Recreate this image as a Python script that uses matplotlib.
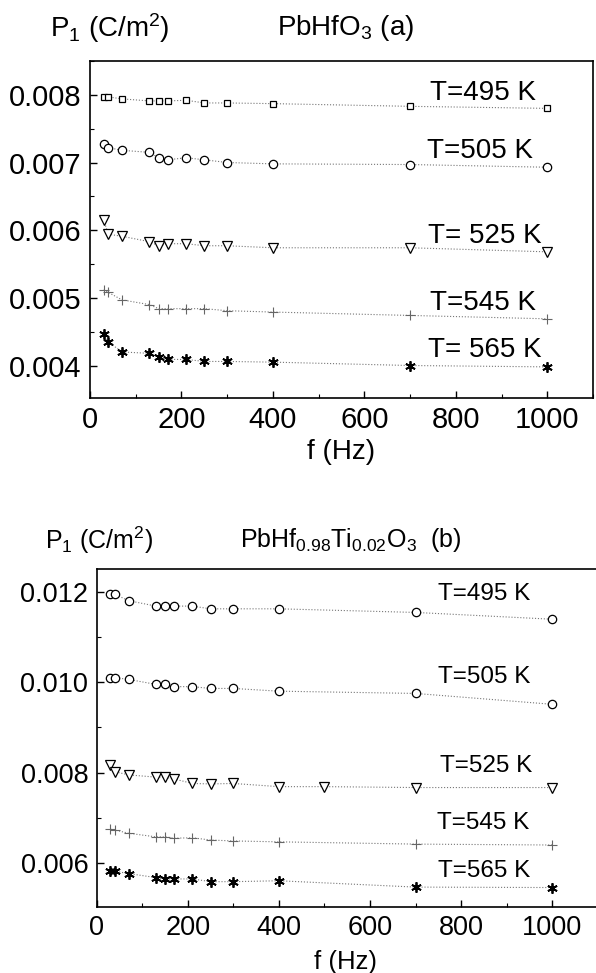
import matplotlib
matplotlib.use("Agg")
import matplotlib.pyplot as plt
from matplotlib.ticker import MultipleLocator, FormatStrFormatter

plt.rcParams['font.family'] = ['Liberation Sans', 'DejaVu Sans']
plt.rcParams['mathtext.fontset'] = 'custom'
plt.rcParams['mathtext.rm'] = 'Liberation Sans'
plt.rcParams['mathtext.it'] = 'Liberation Sans'
plt.rcParams['mathtext.default'] = 'regular'

# frequencies (Hz)
freq = [30, 40, 70, 130, 150, 170, 210, 250, 300, 400, 700, 1000]
freq_b525 = [30, 40, 70, 130, 150, 170, 210, 250, 300, 400, 500, 700, 1000]

# panel (a) PbHfO3
temps_a = ["T=495 K", "T=505 K", "T= 525 K", "T=545 K", "T= 565 K"]
a495 = [0.00797, 0.00797, 0.00794, 0.00791, 0.00791, 0.00791, 0.00792, 0.00788, 0.00788, 0.00787, 0.00783, 0.00780]
a505 = [0.00727, 0.00722, 0.00718, 0.00715, 0.00707, 0.00704, 0.00707, 0.00704, 0.00700, 0.00698, 0.00697, 0.00693]
a525 = [0.00615, 0.00594, 0.00591, 0.00583, 0.00577, 0.00580, 0.00580, 0.00577, 0.00577, 0.00574, 0.00574, 0.00568]
a545 = [0.00512, 0.00508, 0.00497, 0.00490, 0.00484, 0.00484, 0.00484, 0.00484, 0.00481, 0.00479, 0.00474, 0.00469]
a565 = [0.00447, 0.00435, 0.00420, 0.00418, 0.00413, 0.00409, 0.00409, 0.00406, 0.00406, 0.00405, 0.00400, 0.00398]
label_x_a = [744, 737, 739, 744, 740]
label_y_a = [0.00792, 0.00707, 0.00581, 0.00482, 0.00413]

# panel (b) PbHf0.98Ti0.02O3
temps_b = ["T=495 K", "T=505 K", "T=525 K", "T=545 K", "T=565 K"]
b495 = [0.01194, 0.01194, 0.01180, 0.01168, 0.01168, 0.01168, 0.01168, 0.01162, 0.01162, 0.01162, 0.01154, 0.01139]
b505 = [0.01010, 0.01010, 0.01006, 0.00995, 0.00995, 0.00990, 0.00990, 0.00986, 0.00986, 0.00980, 0.00975, 0.00951]
b525 = [0.00817, 0.00802, 0.00795, 0.00790, 0.00790, 0.00786, 0.00776, 0.00775, 0.00776, 0.00769, 0.00769, 0.00767, 0.00767]
b545 = [0.00675, 0.00673, 0.00666, 0.00658, 0.00658, 0.00655, 0.00656, 0.00651, 0.00649, 0.00647, 0.00642, 0.00640]
b565 = [0.00582, 0.00582, 0.00577, 0.00568, 0.00565, 0.00565, 0.00565, 0.00559, 0.00559, 0.00561, 0.00547, 0.00546]
label_x_b = [750, 750, 753, 748, 749]
label_y_b = [0.01182, 0.00997, 0.00802, 0.00675, 0.00570]

asterisk = (6, 2, 0)
styles = [
    dict(marker='s', ms=5, mfc='white', mec='black', mew=0.9),
    dict(marker='o', ms=6, mfc='white', mec='black', mew=0.9),
    dict(marker='v', ms=6.5, mfc='white', mec='black', mew=0.9),
    dict(marker='+', ms=7, mec='#666666', mew=0.8),
    dict(marker=asterisk, ms=7.5, mec='black', mew=1.3),
]

fig = plt.figure(figsize=(5.96, 9.73), dpi=100)
W, H = 596.0, 973.0


def style_axes(ax, fs):
    ax.tick_params(which='both', direction='in', top=False, right=False, labelsize=fs)
    ax.tick_params(which='major', length=5, width=1.0, pad=6)
    ax.tick_params(which='minor', length=3, width=0.8)
    for s in ax.spines.values():
        s.set_linewidth(1.2)
    ax.xaxis.set_major_locator(MultipleLocator(200))
    ax.xaxis.set_minor_locator(MultipleLocator(100))


# ---- top panel
ax1 = fig.add_axes([90 / W, 1 - 398 / H, 503 / W, 337 / H])
for ys, st in zip([a495, a505, a525, a545, a565], styles):
    ax1.plot(freq, ys, ls=':', lw=0.8, color='#777777', **st)
for t, x, y in zip(temps_a, label_x_a, label_y_a):
    ax1.text(x, y, t, fontsize=20, va='baseline', ha='left')
ax1.set_xlim(0, 1100)
ax1.set_ylim(0.00352, 0.0085)
ax1.yaxis.set_major_locator(MultipleLocator(0.001))
ax1.yaxis.set_minor_locator(MultipleLocator(0.0005))
ax1.yaxis.set_major_formatter(FormatStrFormatter('%.3f'))
style_axes(ax1, 21)

fig.text(50 / W, 1 - 28 / H, r'P$_1$ (C/m$^2$)', fontsize=20, va='center', ha='left')
fig.text(277 / W, 1 - 28 / H, r'PbHfO$_3$ (a)', fontsize=20, va='center', ha='left')
fig.text(341 / W, 1 - 452 / H, 'f (Hz)', fontsize=20, va='center', ha='center')

# ---- bottom panel
ax2 = fig.add_axes([96.7 / W, 1 - 907 / H, 501 / W, 338 / H])
for ys, st, fx in zip([b495, b505, b525, b545, b565], styles[1:2] * 2 + styles[2:],
                      [freq, freq, freq_b525, freq, freq]):
    ax2.plot(fx, ys, ls=':', lw=0.8, color='#777777', **st)
for t, x, y in zip(temps_b, label_x_b, label_y_b):
    ax2.text(x, y, t, fontsize=17.5, va='baseline', ha='left')
ax2.set_xlim(0, 1100)
ax2.set_ylim(0.00503, 0.0125)
ax2.yaxis.set_major_locator(MultipleLocator(0.002))
ax2.yaxis.set_minor_locator(MultipleLocator(0.001))
ax2.yaxis.set_major_formatter(FormatStrFormatter('%.3f'))
style_axes(ax2, 19.5)

fig.text(45 / W, 1 - 540 / H, r'P$_1$ (C/m$^2$)', fontsize=18, va='center', ha='left')
fig.text(240 / W, 1 - 540 / H, r'PbHf$_{0.98}$Ti$_{0.02}$O$_3$  (b)', fontsize=18, va='center', ha='left')
fig.text(346 / W, 1 - 962 / H, 'f (Hz)', fontsize=18.5, va='center', ha='center')

fig.savefig('out.png', dpi=100)
